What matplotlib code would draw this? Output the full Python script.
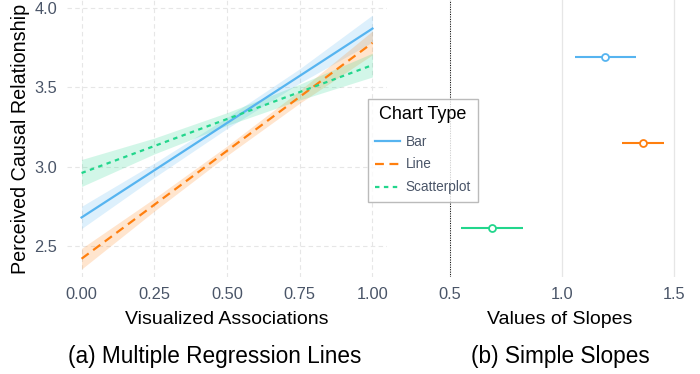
import numpy as np
import matplotlib
matplotlib.use("Agg")
import matplotlib.pyplot as plt
from matplotlib.lines import Line2D

plt.rcParams['font.family'] = ['Liberation Sans', 'DejaVu Sans']

# regression lines
xs = [0.0, 0.25, 0.5, 0.75, 1.0]
chart_types = ['Bar', 'Line', 'Scatterplot']
fit_bar = [2.68, 2.977, 3.275, 3.572, 3.87]
fit_line = [2.42, 2.76, 3.10, 3.44, 3.78]
fit_scatter = [2.96, 3.13, 3.30, 3.47, 3.64]
half_bar = [0.07, 0.045, 0.035, 0.045, 0.085]
half_line = [0.065, 0.04, 0.03, 0.04, 0.075]
half_scatter = [0.085, 0.05, 0.04, 0.05, 0.075]

# simple slopes (estimate, low, high)
slope_est = [1.192, 1.362, 0.687]
slope_lo = [1.058, 1.268, 0.549]
slope_hi = [1.33, 1.455, 0.826]

colors = ['#56b4f0', '#ff7f0e', '#22d68c']
styles = ['-', (0, (4, 2.5)), (0, (2, 2))]
tick_col = '#4a5568'
W, H = 700, 374

fig = plt.figure(figsize=(7, 3.74), dpi=100)

# ---- left panel
ax = fig.add_axes([67 / W, 1 - 277 / H, 320 / W, 277 / H])
fits = [fit_bar, fit_line, fit_scatter]
halves = [half_bar, half_line, half_scatter]
for f, h, c in zip(fits, halves, colors):
    f = np.array(f); h = np.array(h)
    ax.fill_between(xs, f - h, f + h, color=c, alpha=0.2, lw=0)
for f, c, ls, name in zip(fits, colors, styles, chart_types):
    ax.plot(xs, f, color=c, ls=ls, lw=1.6, label=name)
ax.set_xlim(-0.05, 1.05)
ax.set_ylim(2.305, 4.05)
ax.set_xticks([0, 0.25, 0.5, 0.75, 1.0])
ax.set_xticklabels(['0.00', '0.25', '0.50', '0.75', '1.00'])
ax.set_yticks([2.5, 3.0, 3.5, 4.0])
ax.grid(True, color='#e6e6e6', ls=(0, (4, 3)), lw=0.8)
ax.set_axisbelow(True)
for s in ax.spines.values():
    s.set_visible(False)
ax.tick_params(length=0, labelsize=11.8, colors=tick_col, pad=7)
ax.set_xlabel('Visualized Associations', fontsize=14, labelpad=7)
ax.set_ylabel('Perceived Causal Relationship', fontsize=14.2, labelpad=3)

# ---- right panel
ax2 = fig.add_axes([420 / W, 1 - 277 / H, 280 / W, 277 / H])
ypos = [3, 2, 1]
for e, lo, hi, y, c in zip(slope_est, slope_lo, slope_hi, ypos, colors):
    ax2.plot([lo, hi], [y, y], color=c, lw=1.5, solid_capstyle='butt')
    ax2.plot(e, y, 'o', ms=5, mfc='white', mec=c, mew=1.3)
ax2.axvline(0.5, color='black', ls=(0, (1, 1.5)), lw=0.7)
ax2.set_xlim(0.366, 1.616)
ax2.set_ylim(0.43, 3.67)
ax2.set_xticks([0.5, 1.0, 1.5])
ax2.set_yticks([])
ax2.grid(True, axis='x', color='#e6e6e6', lw=0.9)
ax2.set_axisbelow(True)
for s in ax2.spines.values():
    s.set_visible(False)
ax2.tick_params(length=0, labelsize=11.8, colors=tick_col, pad=7)
ax2.set_xlabel('Values of Slopes', fontsize=14, labelpad=7)

# legend
handles = [Line2D([0], [0], color=c, ls=ls, lw=1.6) for c, ls in zip(colors, styles)]
leg = fig.legend(handles, chart_types, title='Chart Type', loc='upper left',
                 bbox_to_anchor=(368 / W, 1 - 99 / H), fontsize=9.8,
                 title_fontsize=13, frameon=True, fancybox=False,
                 edgecolor='#aaaaaa', handlelength=1.8, handletextpad=0.4,
                 borderpad=0.55, labelspacing=0.65, borderaxespad=0)
leg.get_frame().set_linewidth(1.0)
leg._legend_box.sep = 8
for t in leg.get_texts():
    t.set_color(tick_col)

fig.text(215 / W, 1 - 356 / H, '(a) Multiple Regression Lines', ha='center', va='center', fontsize=16.3)
fig.text(560 / W, 1 - 356 / H, '(b) Simple Slopes', ha='center', va='center', fontsize=16.3)

fig.savefig('out.png', dpi=100)
